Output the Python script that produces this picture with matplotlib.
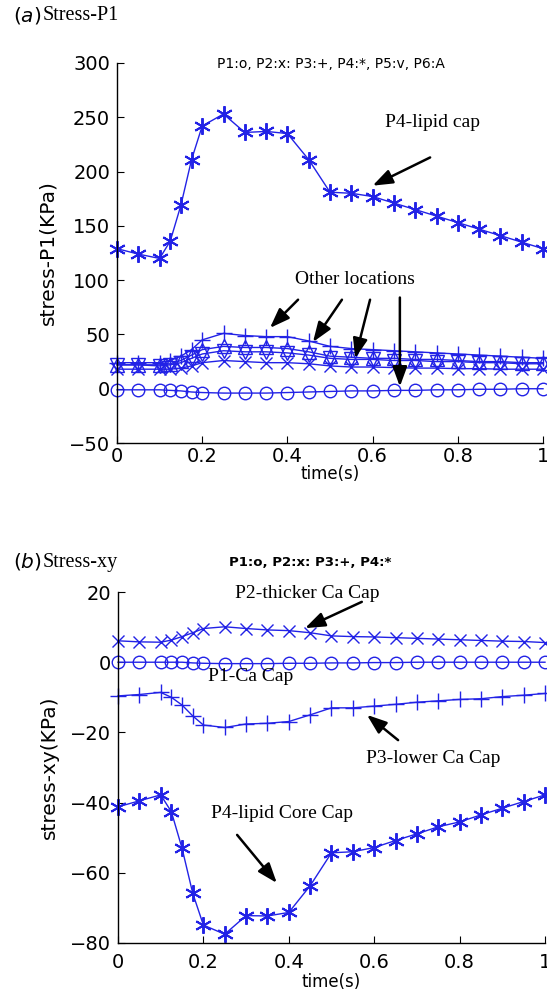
import numpy as np
import matplotlib.pyplot as plt

# time samples (s) -- finer steps during the systolic rise
t = [0, 0.05, 0.1, 0.125, 0.15, 0.175, 0.2, 0.25, 0.3, 0.35, 0.4, 0.45,
     0.5, 0.55, 0.6, 0.65, 0.7, 0.75, 0.8, 0.85, 0.9, 0.95, 1.0]

# (a) stress-P1 (KPa)
p1_a = [-1, -1, -1, -1.5, -2, -3, -3.5, -4, -4, -4, -3.5, -3,
        -2.5, -2, -2, -1.5, -1.5, -1, -1, -0.5, -0.5, 0, 0]
p2_a = [18, 18, 18, 18, 19, 21, 24, 26, 25, 24, 24, 23,
        21, 20, 20, 19.5, 19, 19, 18.5, 18.5, 18, 18, 18]
p3_a = [24, 24, 24, 26, 30, 36, 45, 51, 49, 48, 48, 44,
        39, 37, 36, 35, 34, 33, 32, 31, 30, 29, 28]
p4_a = [129, 124, 120, 136, 169, 211, 242, 253, 236, 237, 235, 211,
        181, 180, 177, 171, 165, 159, 153, 147, 141, 135, 129]
p5_a = [22, 22, 21, 22, 24, 28, 32, 35, 34, 34, 33, 31,
        28, 27, 27, 26, 26, 25, 25, 24, 24, 23, 23]
p6_a = [22, 22, 22, 23, 26, 31, 36, 39, 38, 38, 37, 34,
        30, 29, 28, 28, 27, 27, 26, 25, 25, 24, 24]

# (b) stress-xy (KPa)
p1_b = [0, 0, 0, 0, 0, -0.2, -0.3, -0.4, -0.4, -0.4, -0.3, -0.3,
        -0.2, -0.2, -0.1, -0.1, 0, 0, 0, 0, 0, 0, 0]
p2_b = [6.1, 5.8, 5.7, 6.3, 7.3, 8.4, 9.6, 10.1, 9.6, 9.2, 9.0, 8.4,
        7.5, 7.3, 7.2, 7.0, 6.8, 6.6, 6.4, 6.2, 6.0, 5.9, 5.6]
p3_b = [-9.6, -9.2, -8.6, -10, -12.2, -15.3, -17.9, -18.6, -17.6, -17.4, -16.9, -15,
        -13, -13, -12.5, -12, -11.4, -11, -10.6, -10.4, -9.8, -9.4, -8.9]
p4_b = [-41.2, -39.5, -37.8, -42.6, -53, -65.8, -74.9, -77.5, -72.2, -72.3, -71.3, -63.7,
        -54.3, -54, -52.8, -50.8, -48.9, -46.9, -45.5, -43.5, -41.6, -39.7, -37.8]

xticks = [0, 0.2, 0.4, 0.6, 0.8, 1]
xtick_labels = ['0', '0.2', '0.4', '0.6', '0.8', '1']

blue = '#2222e6'
serif = 'Liberation Serif'
asterisk = (6, 2, 0)   # six-spoke asterisk marker
plt.rcParams['mathtext.fontset'] = 'dejavusans'

fig = plt.figure(figsize=(5.47, 9.92), dpi=100)
ax1 = fig.add_axes([0.2139, 0.5534, 0.7788, 0.3831])
ax2 = fig.add_axes([0.2157, 0.0494, 0.7806, 0.3538])


def style(ax, ylim, yticks, ylabel, pad, xpad):
    ax.set_xlim(0, 1)
    ax.set_ylim(*ylim)
    ax.set_yticks(yticks)
    ax.set_xticks(xticks)
    ax.set_xticklabels(xtick_labels)
    for s in ['top', 'right']:
        ax.spines[s].set_visible(False)
    for s in ['left', 'bottom']:
        ax.spines[s].set_linewidth(1.0)
    ax.tick_params(direction='in', length=5, labelsize=14, pad=5)
    ax.tick_params(axis='x', pad=pad)
    ax.set_ylabel(ylabel, fontsize=14.5, labelpad=8)
    ax.set_xlabel('time(s)', fontsize=12, labelpad=xpad)


def series(ax, y, marker, ms=9, mew=1.0):
    ax.plot(t, y, color=blue, lw=1.0, marker=marker, ms=ms,
            mfc='none', mec=blue, mew=mew, clip_on=False)


arrow = dict(arrowstyle='-|>,head_length=0.6,head_width=0.22',
             color='k', lw=1.8, shrinkA=0, shrinkB=0, mutation_scale=20)

# (a) principal stress at six locations
series(ax1, p1_a, 'o')
series(ax1, p2_a, 'x', 8)
series(ax1, p3_a, '+', 12)
series(ax1, p5_a, 'v', 10)
series(ax1, p6_a, '^', 10)
series(ax1, p4_a, asterisk, 12, 1.4)
style(ax1, (-50, 300), np.arange(-50, 301, 50), 'stress-P1(KPa)', 3, -1)

ax1.text(0.74, 245, 'P4-lipid cap', family=serif, fontsize=14,
         ha='center', va='center')
ax1.annotate('', xy=(0.60, 187), xytext=(0.735, 213), arrowprops=arrow)
ax1.text(0.559, 101, 'Other locations', family=serif, fontsize=14,
         ha='center', va='center')
for tail, head in [((0.425, 82), (0.359, 56)), ((0.528, 82), (0.46, 43)),
                   ((0.594, 82), (0.559, 28)), ((0.664, 84), (0.664, 2))]:
    ax1.annotate('', xy=head, xytext=tail, arrowprops=arrow)

# (b) shear stress at four locations
series(ax2, p1_b, 'o')
series(ax2, p2_b, 'x', 8)
series(ax2, p3_b, '+', 12)
series(ax2, p4_b, asterisk, 12, 1.4)
style(ax2, (-80, 20), np.arange(-80, 21, 20), 'stress-xy(KPa)', 7, 1)

ax2.text(0.444, 19.7, 'P2-thicker Ca Cap', family=serif, fontsize=14,
         ha='center', va='center')
ax2.annotate('', xy=(0.438, 9.7), xytext=(0.571, 17.2), arrowprops=arrow)
ax2.text(0.31, -4.2, 'P1-Ca Cap', family=serif, fontsize=14,
         ha='center', va='center')
ax2.text(0.738, -27.3, 'P3-lower Ca Cap', family=serif, fontsize=14,
         ha='center', va='center')
ax2.annotate('', xy=(0.583, -15), xytext=(0.656, -22.2), arrowprops=arrow)
ax2.text(0.385, -43, 'P4-lipid Core Cap', family=serif, fontsize=14,
         ha='center', va='center')
ax2.annotate('', xy=(0.372, -62.9), xytext=(0.279, -49.2), arrowprops=arrow)

# panel headings and marker keys
W, H = 547, 992
fig.text(13 / W, 1 - 15 / H, r'$(\mathit{a})$', fontsize=14.5, va='center')
fig.text(43 / W, 1 - 15 / H, 'Stress-P1', family=serif, fontsize=14.5, va='center')
fig.text(217 / W, 1 - 64 / H, 'P1:o, P2:x: P3:+, P4:*, P5:v, P6:A',
         fontsize=10, va='center')
fig.text(13 / W, 1 - 562 / H, r'$(\mathit{b})$', fontsize=14.5, va='center')
fig.text(43 / W, 1 - 562 / H, 'Stress-xy', family=serif, fontsize=14.5, va='center')
fig.text(229 / W, 1 - 563 / H, 'P1:o, P2:x: P3:+, P4:*',
         fontsize=9.5, fontweight='bold', va='center')

fig.savefig('out.png', dpi=100)
